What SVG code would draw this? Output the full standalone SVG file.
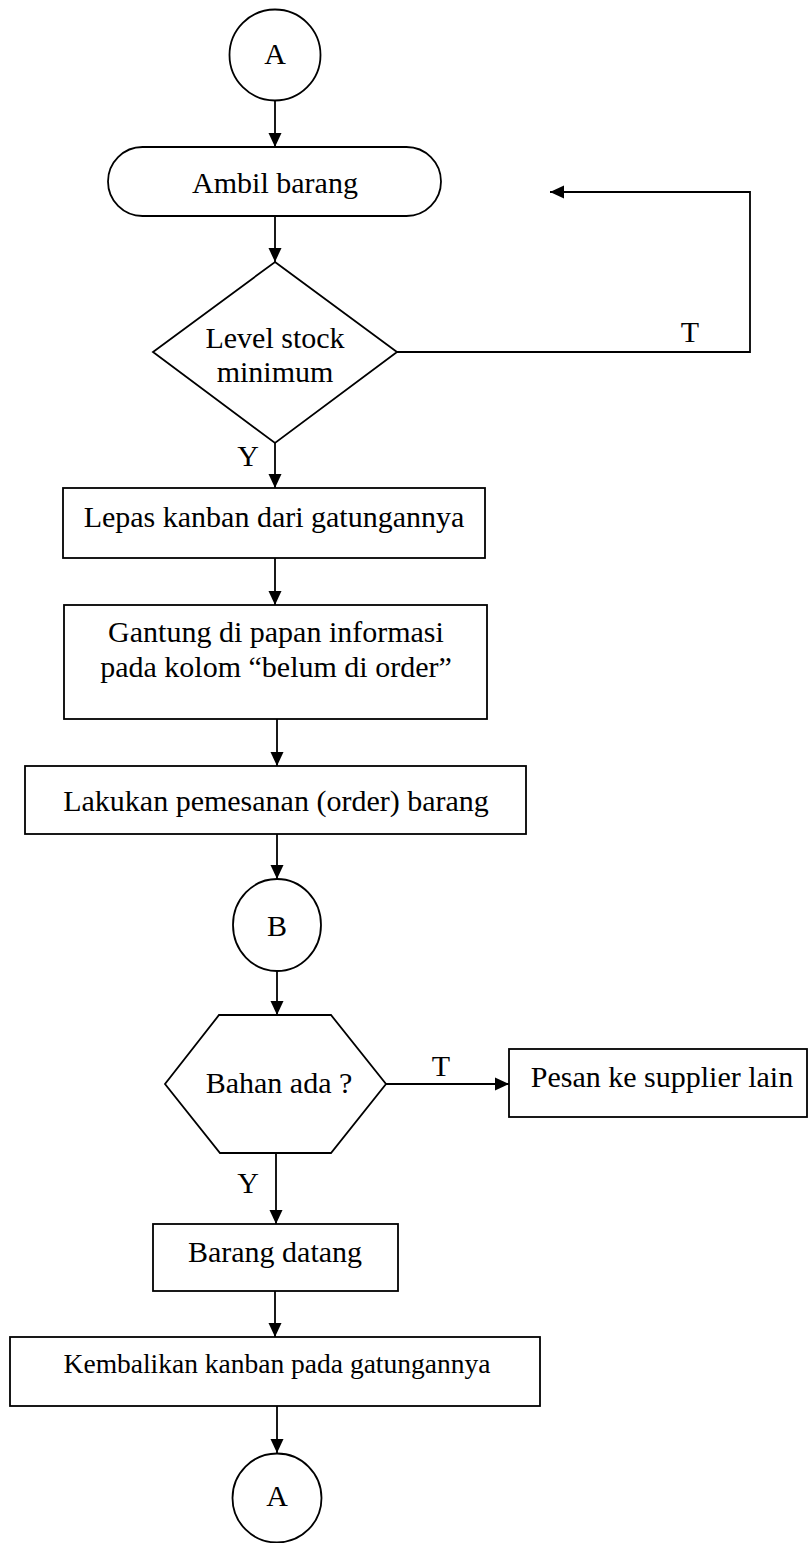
<svg xmlns="http://www.w3.org/2000/svg" width="810" height="1543" viewBox="0 0 810 1543">
  <defs>
    <marker id="arrow" markerUnits="userSpaceOnUse" markerWidth="15" markerHeight="14" refX="14" refY="7" orient="auto">
      <path d="M0,0.5 L14,7 L0,13.5 z" fill="#000"/>
    </marker>
    <style>
      .shape { fill: #fff; stroke: #000; stroke-width: 1.8; }
      .conn { fill: none; stroke: #000; stroke-width: 1.8; marker-end: url(#arrow); }
      text { font-family: "Liberation Serif", "Times New Roman", serif; font-size: 30px; fill: #000; text-anchor: middle; }
    </style>
  </defs>
  <rect width="810" height="1543" fill="#fff"/>

  <!-- connectors and branch labels -->
  <g id="connectors">
    <line class="conn" x1="275" y1="101" x2="275" y2="147"/>
    <line class="conn" x1="275" y1="216" x2="275" y2="262"/>
    <path class="conn" d="M397,352 H750 V192 H550"/>
    <line class="conn" x1="275" y1="443" x2="275" y2="488"/>
    <line class="conn" x1="275" y1="558" x2="275" y2="605"/>
    <line class="conn" x1="277" y1="719" x2="277" y2="766"/>
    <line class="conn" x1="277" y1="834" x2="277" y2="879"/>
    <line class="conn" x1="277" y1="971" x2="277" y2="1015"/>
    <line class="conn" x1="386" y1="1084" x2="509" y2="1084"/>
    <line class="conn" x1="276" y1="1153" x2="276" y2="1224"/>
    <line class="conn" x1="275" y1="1291" x2="275" y2="1337"/>
    <line class="conn" x1="277" y1="1406" x2="277" y2="1453"/>
    <text x="690" y="342">T</text>
    <text x="248" y="466">Y</text>
    <text x="441" y="1076">T</text>
    <text x="248" y="1193">Y</text>
  </g>

  <g id="connector-a-top">
    <circle class="shape" cx="275" cy="55" r="45.5"/>
    <text x="275" y="64">A</text>
  </g>

  <g id="ambil-barang">
    <rect class="shape" x="108" y="147" width="333" height="69" rx="34.5" ry="34.5"/>
    <text x="275" y="193">Ambil barang</text>
  </g>

  <g id="level-stock">
    <polygon class="shape" points="275,262 397,352 275,443 153,352"/>
    <text x="275" y="348">Level stock</text>
    <text x="275" y="382">minimum</text>
  </g>

  <g id="lepas-kanban">
    <rect class="shape" x="63" y="488" width="422" height="70"/>
    <text x="274" y="527">Lepas kanban dari gatungannya</text>
  </g>

  <g id="gantung">
    <rect class="shape" x="64" y="605" width="423" height="114"/>
    <text x="276" y="642">Gantung di papan informasi</text>
    <text x="276" y="677">pada kolom “belum di order”</text>
  </g>

  <g id="lakukan-pemesanan">
    <rect class="shape" x="25" y="766" width="501" height="68"/>
    <text x="276" y="811">Lakukan pemesanan (order) barang</text>
  </g>

  <g id="connector-b">
    <ellipse class="shape" cx="277" cy="925" rx="44" ry="46"/>
    <text x="277" y="936">B</text>
  </g>

  <g id="bahan-ada">
    <polygon class="shape" points="219,1015 331,1015 386,1084 331,1153 220,1153 165,1084"/>
    <text x="279" y="1093">Bahan ada ?</text>
  </g>

  <g id="pesan-supplier">
    <rect class="shape" x="509" y="1049" width="298" height="68"/>
    <text x="662" y="1087">Pesan ke supplier lain</text>
  </g>

  <g id="barang-datang">
    <rect class="shape" x="153" y="1224" width="245" height="67"/>
    <text x="275" y="1262">Barang datang</text>
  </g>

  <g id="kembalikan-kanban">
    <rect class="shape" x="10" y="1337" width="530" height="69"/>
    <text x="277" y="1373" style="font-size:27.5px">Kembalikan kanban pada gatungannya</text>
  </g>

  <g id="connector-a-bottom">
    <circle class="shape" cx="277" cy="1498" r="44.5"/>
    <text x="277" y="1506">A</text>
  </g>
</svg>
